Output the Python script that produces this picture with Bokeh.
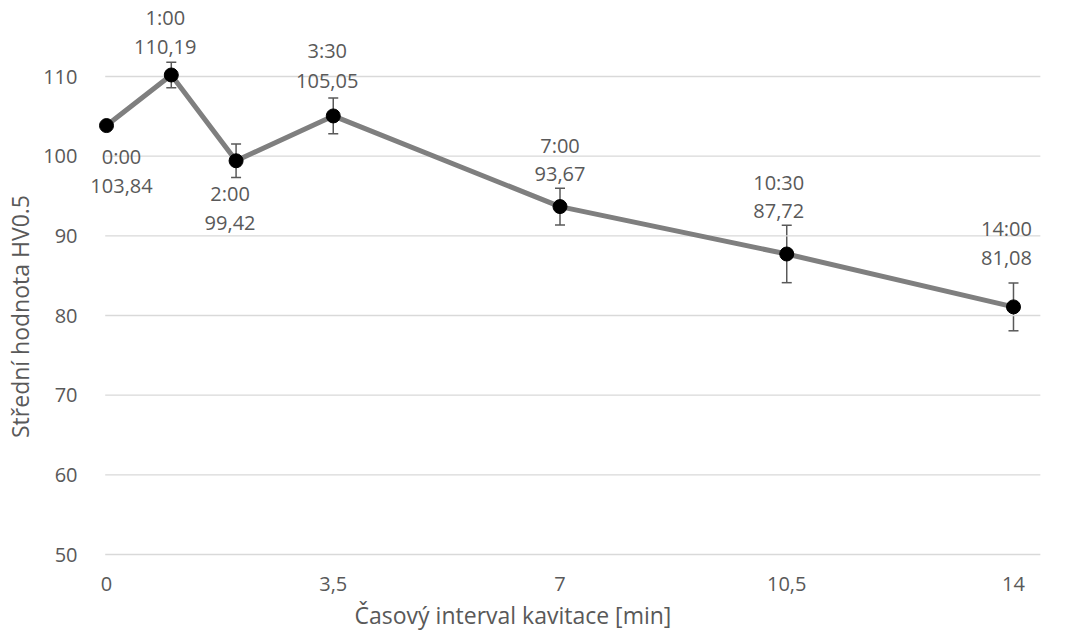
from bokeh.plotting import figure
from bokeh.models import ColumnDataSource, Whisker, LabelSet, Label, FixedTicker, Range1d, TeeHead
from bokeh.core.properties import value
from bokeh.embed import file_html
from bokeh.resources import INLINE

# ---- data ----
time_min = [0, 1, 2, 3.5, 7, 10.5, 14]
hardness = [103.84, 110.19, 99.42, 105.05, 93.67, 87.72, 81.08]
error = [0.0, 1.6, 2.1, 2.25, 2.3, 3.6, 3.0]
time_labels = ["0:00", "1:00", "2:00", "3:30", "7:00", "10:30", "14:00"]
value_labels = ["103,84", "110,19", "99,42", "105,05", "93,67", "87,72", "81,08"]
x_ticks = [0, 3.5, 7, 10.5, 14]
x_tick_labels = ["0", "3,5", "7", "10,5", "14"]
y_ticks = [50, 60, 70, 80, 90, 100, 110]
x_title = "Časový interval kavitace [min]"
y_title = "Střední hodnota HV0.5"

# ---- layout / style ----
label_dx = [15, -6, -6, -6, 0, -8, -7]
time_dy = [-31, 57, -33, 65, 61, 72, 78]
value_dy = [-60, 28, -62, 35, 33, 43, 49]
GRID_X0, GRID_X1 = -0.02, 14.42
FONT = "Open Sans"
TXT = "#595959"

src = ColumnDataSource(dict(
    x=time_min, y=hardness,
    upper=[h + e for h, e in zip(hardness, error)],
    lower=[h - e for h, e in zip(hardness, error)],
    tl=time_labels, vl=value_labels,
    dx=label_dx, tdy=time_dy, vdy=value_dy,
))
tick_src = ColumnDataSource(dict(x=x_ticks, y=[y_ticks[0]] * len(x_ticks), t=x_tick_labels))
grid_src = ColumnDataSource(dict(y=y_ticks, x0=[GRID_X0] * len(y_ticks), x1=[GRID_X1] * len(y_ticks)))

p = figure(width=1068, height=632, output_backend="svg", toolbar_location=None,
           x_range=Range1d(-0.278, 14.417), y_range=Range1d(40.21, 119.54),
           min_border_left=88, min_border_right=28, min_border_top=0, min_border_bottom=0)
p.outline_line_color = None
p.background_fill_color = "white"
p.border_fill_color = "white"
p.xgrid.grid_line_color = None
p.ygrid.grid_line_color = None
p.xaxis.visible = False

# horizontal gridlines
p.segment(x0="x0", x1="x1", y0="y", y1="y", source=grid_src, line_color="#d9d9d9", line_width=1.3)

ya = p.yaxis[0]
ya.ticker = FixedTicker(ticks=y_ticks)
ya.axis_line_color = None
ya.major_tick_line_color = None
ya.minor_tick_line_color = None
ya.major_label_text_font = FONT
ya.major_label_text_font_size = "20px"
ya.major_label_text_color = TXT
ya.axis_label = y_title
ya.axis_label_text_font = FONT
ya.axis_label_text_font_size = "23px"
ya.axis_label_text_font_style = "normal"
ya.axis_label_text_color = TXT
ya.major_label_standoff = 5
ya.axis_label_standoff = 4

p.line("x", "y", source=src, line_color="#7f7f7f", line_width=5)

w = Whisker(base="x", upper="upper", lower="lower", source=src,
            line_color="#595959", line_width=1.5,
            upper_head=TeeHead(size=10, line_color="#595959", line_width=1.5),
            lower_head=TeeHead(size=10, line_color="#595959", line_width=1.5))
p.add_layout(w)

p.scatter("x", "y", source=src, size=14, fill_color="black", line_color="black")

for col, dy in (("tl", "tdy"), ("vl", "vdy")):
    p.add_layout(LabelSet(x="x", y="y", text=col, source=src,
                          x_offset="dx", y_offset=dy,
                          text_align="center", text_baseline="middle",
                          text_font=value(FONT), text_font_size="20px", text_color=TXT))

# x tick labels and title
p.add_layout(LabelSet(x="x", y="y", text="t", source=tick_src, y_offset=-29,
                      text_align="center", text_baseline="middle",
                      text_font=value(FONT), text_font_size="20px", text_color=TXT))
p.add_layout(Label(x=6.274, y=y_ticks[0], y_offset=-60, text=x_title,
                   text_align="center", text_baseline="middle",
                   text_font=FONT, text_font_size="23px", text_color=TXT))

open("out.html", "w").write(file_html(p, INLINE))
